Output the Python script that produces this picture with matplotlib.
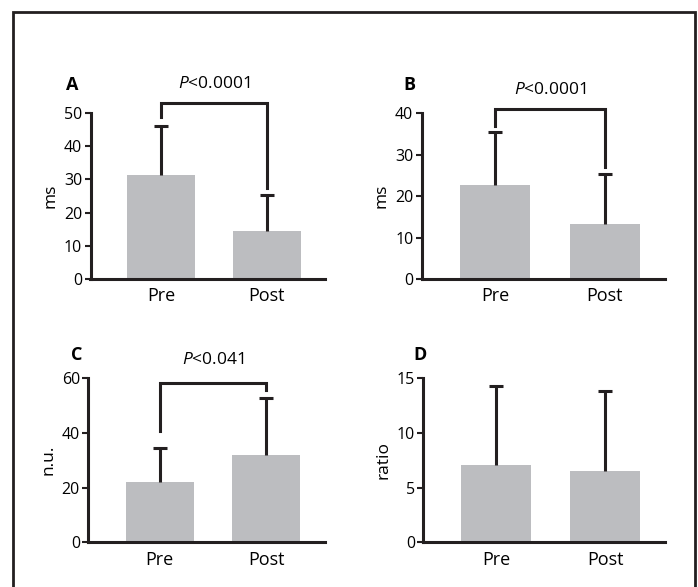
import numpy as np
import matplotlib
matplotlib.use('Agg')
import matplotlib.pyplot as plt
from matplotlib.patches import Rectangle

plt.rcParams['font.family'] = ['Open Sans', 'DejaVu Sans']
plt.rcParams['mathtext.fontset'] = 'custom'
plt.rcParams['mathtext.rm'] = 'Open Sans'
plt.rcParams['mathtext.it'] = 'Open Sans:italic'

# data
groups = ['Pre', 'Post']
panel_names = ['A', 'B', 'C', 'D']
ylabels = ['ms', 'ms', 'n.u.', 'ratio']
means_a = [31.3, 14.5]
sd_a = [14.8, 10.7]
means_b = [22.7, 13.3]
sd_b = [12.9, 12.1]
means_c = [22.0, 31.9]
sd_c = [12.4, 20.8]
means_d = [7.07, 6.52]
sd_d = [7.23, 7.35]
ylims = [50, 40, 60, 15]
yticks = [[0, 10, 20, 30, 40, 50], [0, 10, 20, 30, 40], [0, 20, 40, 60], [0, 5, 10, 15]]
pvals = ['<0.0001', '<0.0001', '<0.041', None]
# bracket: top, left leg bottom, right leg bottom
brackets = [(53.1, 48.9, 27.3), (41.0, 37.0, 27.1), (58.4, 40.7, 55.7), None]
ptext_y = [58.6, 45.6, 66.6, None]

means = [means_a, means_b, means_c, means_d]
sds = [sd_a, sd_b, sd_c, sd_d]

W, H = 698, 587
fig = plt.figure(figsize=(W / 100, H / 100), dpi=100)

# axes boxes in pixels: left, right, y of zero, y of top
boxes = [(90.5, 325, 279, 113), (421.7, 665, 279, 113.3),
         (88.3, 325, 542.3, 378.3), (423.3, 665, 542.3, 378.3)]
letter_pos = [(72, 85), (409, 85), (77, 355), (420, 355)]

dark = '#231f20'
bar_col = '#bcbdc0'
x = np.arange(len(groups))

for i in range(4):
    l, r, y0, yt = boxes[i]
    ax = fig.add_axes([l / W, (H - y0) / H, (r - l) / W, (y0 - yt) / H])
    ax.bar(x, means[i], width=0.64, color=bar_col, zorder=2)
    eb = ax.errorbar(x, means[i], yerr=[np.zeros(2), sds[i]], fmt='none',
                     ecolor=dark, elinewidth=2.2, capsize=5, capthick=2.2, zorder=3)
    # only the upper cap is shown
    eb[1][0].set_visible(False)
    ax.set_xlim(-0.67, 1.55)
    ax.set_ylim(0, ylims[i])
    ax.set_yticks(yticks[i])
    ax.set_xticks(x)
    ax.set_xticklabels(groups)
    for s in ['top', 'right']:
        ax.spines[s].set_visible(False)
    for s in ['left', 'bottom']:
        ax.spines[s].set_linewidth(2.2)
        ax.spines[s].set_color(dark)
    ax.tick_params(axis='y', length=4, width=1.5, color=dark, labelsize=11.5, pad=2)
    ax.tick_params(axis='x', length=0, labelsize=13, pad=6)
    ax.set_ylabel(ylabels[i], fontsize=12.5, labelpad=4)

    if brackets[i] is not None:
        top, lb, rb = brackets[i]
        ax.plot([0, 0, 1, 1], [lb, top, top, rb], color=dark, lw=2.2,
                clip_on=False, solid_joinstyle='miter', zorder=4)
        ax.text(0.5, ptext_y[i], r'$\mathit{P}$' + pvals[i], ha='center',
                va='center', fontsize=12.5)

    fig.text(letter_pos[i][0] / W, 1 - letter_pos[i][1] / H, panel_names[i],
             ha='center', va='center', fontsize=13, fontweight='bold')

fig.add_artist(Rectangle((13 / W, -0.02), (695 - 13) / W, 1.02 - 12 / H,
                         transform=fig.transFigure, fill=False, lw=2, color=dark))

fig.savefig('out.png', dpi=100)
